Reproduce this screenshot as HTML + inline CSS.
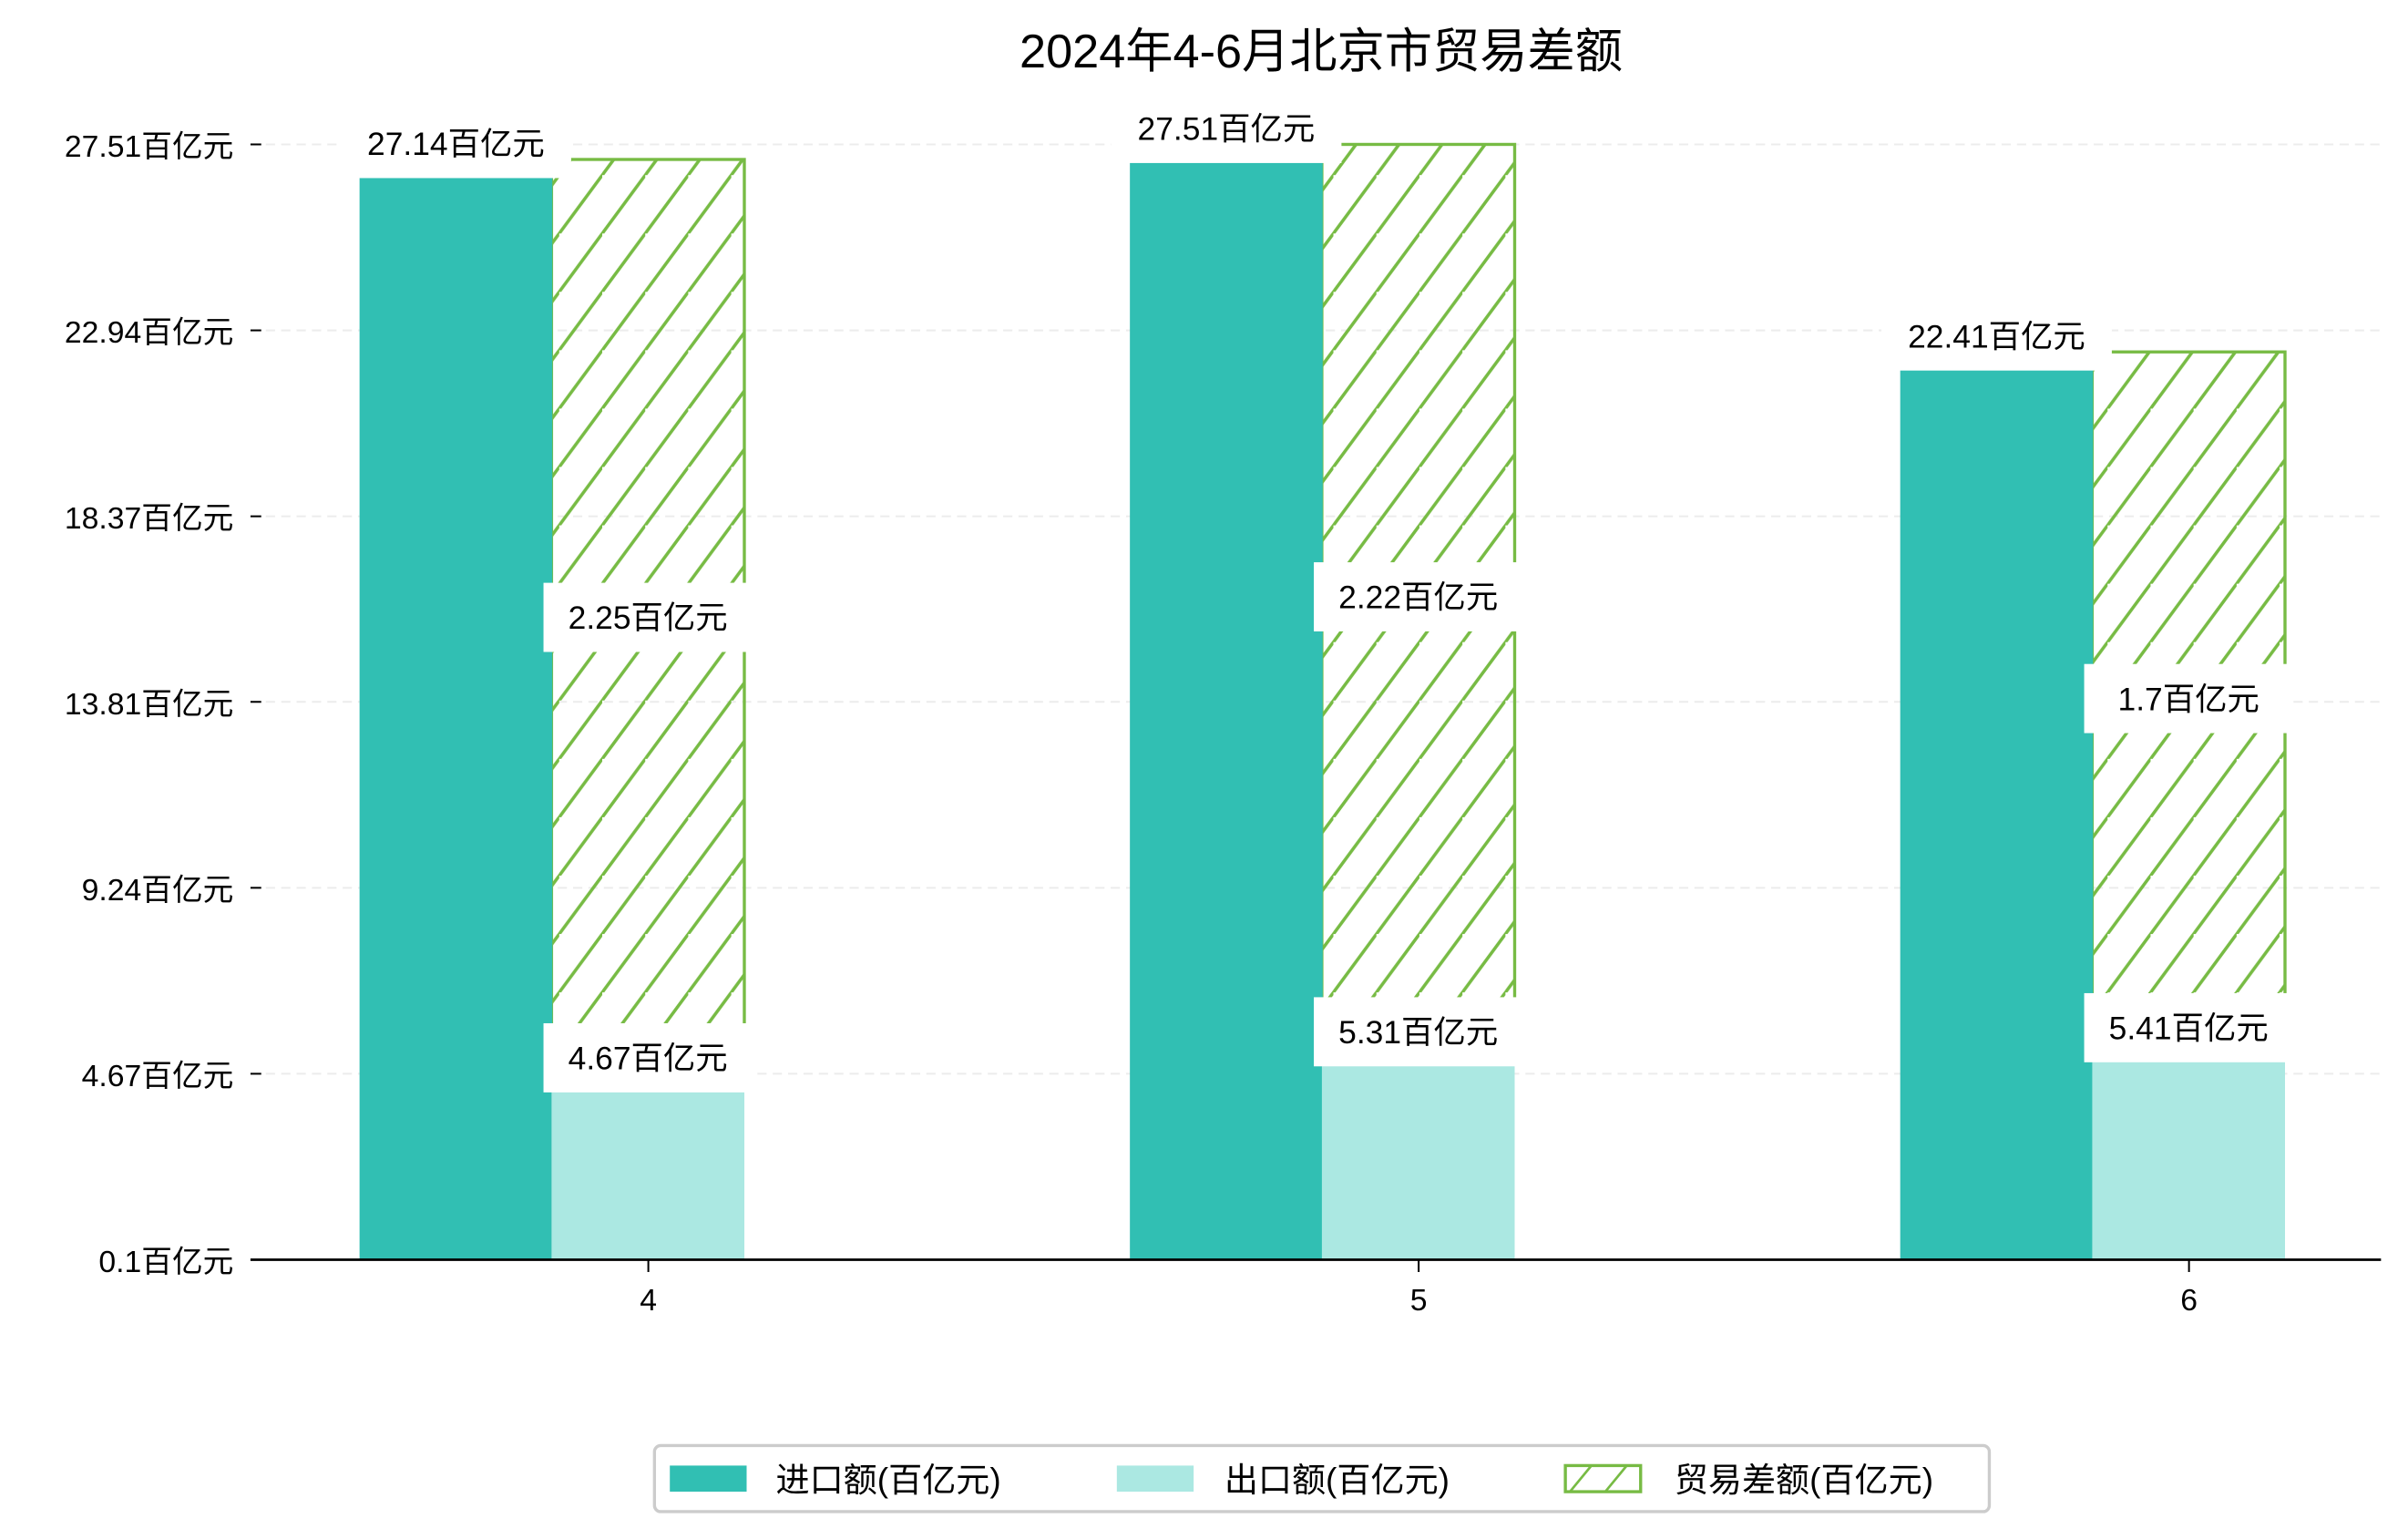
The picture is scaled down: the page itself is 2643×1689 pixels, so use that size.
<!DOCTYPE html>
<html><head><meta charset="utf-8">
<style>
html,body{margin:0;padding:0;background:#fff;}
svg{display:block;}
text{font-family:"Liberation Sans","Noto Sans CJK SC",sans-serif;fill:#000;}
</style></head>
<body>
<svg id="chart" width="2643" height="1689" viewBox="0 0 1567.5 1001.8" xmlns="http://www.w3.org/2000/svg">
<defs>
<pattern id="hatch" patternUnits="userSpaceOnUse" width="28" height="38">
<line x1="-28" y1="76" x2="28" y2="0" stroke="#77bb44" stroke-width="2"/>
<line x1="0" y1="38" x2="28" y2="0" stroke="#77bb44" stroke-width="2"/>
<line x1="0" y1="76" x2="56" y2="0" stroke="#77bb44" stroke-width="2"/>
</pattern>
</defs>
<text x="860" y="44" text-anchor="middle" font-size="31">2024年4-6月北京市贸易差额</text>
<g id="grid"></g>
<g id="bars"></g>
<g id="labels"></g>
<line x1="163" y1="820" x2="1550" y2="820" stroke="#000" stroke-width="1.6"/>
<g>
<rect x="426" y="941" width="869" height="43" rx="4" fill="#fff" stroke="#cccccc" stroke-width="2"/>
<rect x="436" y="954" width="50" height="17" fill="#31bfb3"/>
<text x="505" y="971" font-size="22">进口额(百亿元)</text>
<rect x="727" y="954" width="50" height="17" fill="#abe8e2"/>
<text x="797" y="971" font-size="22">出口额(百亿元)</text>
<rect x="1019" y="954" width="49" height="17" fill="#fff" stroke="#77bb44" stroke-width="2"/>
<line x1="1022" y1="971" x2="1036" y2="954" stroke="#77bb44" stroke-width="1.6"/>
<line x1="1045" y1="971" x2="1059" y2="954" stroke="#77bb44" stroke-width="1.6"/>
<text x="1090" y="971" font-size="22">贸易差额(百亿元)</text>
</g>
</svg>
<script>
const months = ["4","5","6"];
const importVals = [27.14, 27.51, 22.41];
const exportVals = [4.67, 5.31, 5.41];
const balanceLabels = [2.25, 2.22, 1.7];
const yTicks = [0.1, 4.67, 9.24, 13.81, 18.37, 22.94, 27.51];

const NS = "http://www.w3.org/2000/svg";
const y0 = 820, yTop = 94, vMin = 0.1, vMax = 27.51;
const y = v => y0 - (v - vMin) / (vMax - vMin) * (y0 - yTop);
const barShift = 0.42;
const yBar = v => y(v - barShift);
const xCenter = i => 422 + i * 501.5;
const bw = 125.5;

function mk(tag, attrs, parent){
  const el = document.createElementNS(NS, tag);
  for (const k in attrs) el.setAttribute(k, attrs[k]);
  parent.appendChild(el);
  return el;
}
const grid = document.getElementById('grid');
const bars = document.getElementById('bars');
const labels = document.getElementById('labels');

yTicks.forEach((t) => {
  const yy = y(t);
  if (t !== vMin) {
    const g = mk('line', {x1:163, x2:1550, y1:yy, y2:yy, stroke:'#ececec', 'stroke-width':1.2, 'stroke-dasharray':'6 4'}, grid);
    
    
  }
  const tk = mk('line', {x1:163, x2:170, y1:yy, y2:yy, stroke:'#000', 'stroke-width':1.2}, grid);
  
  
  const tx = mk('text', {x:152, y:yy + 8, 'text-anchor':'end', 'font-size':20}, grid);
  tx.textContent = t + '百亿元';
  
  
});

function boxLabel(cx, cy, txt, w){
  const r = mk('rect', {x:cx - w/2, y:cy - 22, width:w, height:45, fill:'#fff'}, labels);
  
  
  const t = mk('text', {x:cx, y:cy + 8, 'text-anchor':'middle', 'font-size':21}, labels);
  t.textContent = txt;
  
  
}

months.forEach((m, i) => {
  const c = xCenter(i);
  const xi = c - 188;
  const xe = c - 63;
  const hb = mk('rect', {x:xe, y:y(importVals[i]), width:bw, height:y(exportVals[i]) - y(importVals[i]), fill:'url(#hatch)', stroke:'#77bb44', 'stroke-width':2}, bars);
  
  
  const ib = mk('rect', {x:xi, y:yBar(importVals[i]), width:bw, height:y0 - yBar(importVals[i]), fill:'#31bfb3'}, bars);
  
  
  const eb = mk('rect', {x:xe, y:yBar(exportVals[i]), width:bw, height:y0 - yBar(exportVals[i]), fill:'#abe8e2'}, bars);
  
  

  boxLabel(xi + bw/2, yBar(importVals[i]) - 22, importVals[i] + '百亿元', 150);
  boxLabel(xe + bw/2, yBar(exportVals[i]) - 22, exportVals[i] + '百亿元', 136);
  const mid = (y(importVals[i]) + y(exportVals[i])) / 2;
  boxLabel(xe + bw/2, mid, balanceLabels[i] + '百亿元', 136);

  const xt = mk('line', {x1:c, x2:c, y1:820, y2:828, stroke:'#000', 'stroke-width':1.2}, labels);
  
  
  const xl = mk('text', {x:c, y:853, 'text-anchor':'middle', 'font-size':20}, labels);
  xl.textContent = m;
  
  
});
</script>
</body></html>
